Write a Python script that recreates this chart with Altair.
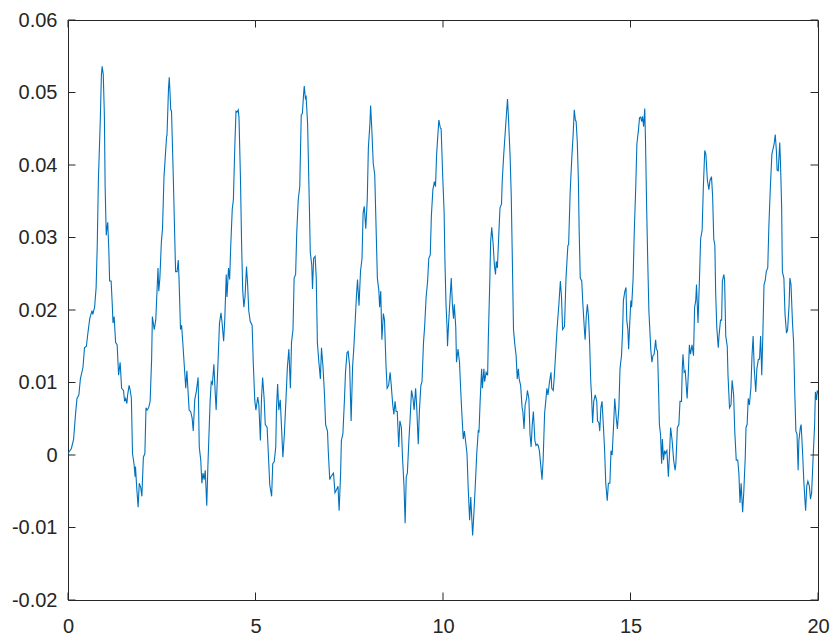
import altair as alt
import pandas as pd

# ---- signal samples, split into segments ----
t1 = [0, 0.09, 0.15, 0.20, 0.24, 0.29, 0.33, 0.40, 0.44, 0.49, 0.53, 0.58, 0.64, 0.66, 0.71, 0.75, 0.78, 0.81,
      0.86, 0.89, 0.91, 0.94, 0.97, 0.99, 1.02, 1.04, 1.06, 1.09, 1.11, 1.15, 1.18, 1.20, 1.23, 1.27, 1.31, 1.35,
      1.39, 1.43, 1.48, 1.51, 1.54, 1.57, 1.59, 1.63, 1.66, 1.69, 1.72, 1.76, 1.79, 1.80, 1.83, 1.87, 1.90, 1.94,
      1.97, 2.01, 2.05, 2.08, 2.11, 2.15, 2.19, 2.23, 2.25, 2.30, 2.34, 2.37, 2.40, 2.42, 2.45, 2.49, 2.52, 2.56,
      2.63, 2.64, 2.68, 2.70, 2.72, 2.74, 2.76, 2.81, 2.86, 2.87, 2.91, 2.94, 2.96, 3.00, 3.03, 3.07]
v1 = [0.0002, 0.0009, 0.0022, 0.0056, 0.0078, 0.0083, 0.0105, 0.0121, 0.0148, 0.0150, 0.0168, 0.0188, 0.0199,
      0.0194, 0.0204, 0.0231, 0.0289, 0.0379, 0.0460, 0.0523, 0.0536, 0.0525, 0.0469, 0.0370, 0.0303, 0.0314,
      0.0321, 0.0280, 0.0240, 0.0240, 0.0208, 0.0182, 0.0191, 0.0155, 0.0152, 0.0110, 0.0128, 0.0092, 0.0089,
      0.0074, 0.0078, 0.0071, 0.0083, 0.0096, 0.0089, 0.0078, 0.0002, -0.0012, -0.0030, -0.0016, -0.0043,
      -0.0072, -0.0039, -0.0045, -0.0057, -0.0003, 0.0002, 0.0065, 0.0062, 0.0065, 0.0074, 0.0132, 0.0191,
      0.0173, 0.0186, 0.0222, 0.0258, 0.0226, 0.0244, 0.0294, 0.0312, 0.0384, 0.0440, 0.0441, 0.0505, 0.0521,
      0.0500, 0.0476, 0.0475, 0.0379, 0.0271, 0.0253, 0.0253, 0.0269, 0.0244, 0.0173, 0.0179, 0.0148]

t2 = [3.14, 3.17, 3.23, 3.27, 3.31, 3.34, 3.38, 3.42, 3.47, 3.50, 3.54, 3.57, 3.60, 3.63, 3.66, 3.70, 3.73, 3.79,
      3.82, 3.85, 3.89, 3.92, 3.95, 4.00, 4.04, 4.08, 4.11, 4.15, 4.18, 4.22, 4.24, 4.28, 4.31, 4.34, 4.38, 4.41,
      4.45, 4.48, 4.51, 4.54, 4.56, 4.60, 4.63, 4.66, 4.69, 4.72, 4.76, 4.79, 4.82, 4.86, 4.91, 4.94, 4.98, 5.01,
      5.06, 5.09, 5.13, 5.16, 5.19, 5.23, 5.26, 5.31, 5.35, 5.38, 5.43, 5.46, 5.50, 5.54, 5.56, 5.59, 5.62, 5.66,
      5.70, 5.73, 5.77, 5.81, 5.85, 5.89, 5.93, 5.96, 6.00, 6.03, 6.07, 6.10, 6.14, 6.18, 6.22, 6.25, 6.28, 6.30,
      6.33, 6.35, 6.39]
v2 = [0.0092, 0.0116, 0.0062, 0.0060, 0.0051, 0.0033, 0.0076, 0.0087, 0.0107, 0.0011, -0.0007, -0.0039, -0.0025,
      -0.0034, -0.0021, -0.0070, -0.0016, 0.0074, 0.0101, 0.0098, 0.0125, 0.0092, 0.0062, 0.0128, 0.0182, 0.0196,
      0.0182, 0.0157, 0.0186, 0.0249, 0.0218, 0.0258, 0.0242, 0.0289, 0.0339, 0.0352, 0.0429, 0.0474, 0.0473,
      0.0476, 0.0465, 0.0379, 0.0289, 0.0226, 0.0204, 0.0218, 0.0260, 0.0235, 0.0199, 0.0184, 0.0179, 0.0128,
      0.0076, 0.0062, 0.0080, 0.0069, 0.0020, 0.0078, 0.0107, 0.0078, 0.0042, 0.0038, -0.0007, -0.0041, -0.0057,
      -0.0012, -0.0009, 0.0011, 0.0065, 0.0098, 0.0062, 0.0076, 0.0031, -0.0003, 0.0029, 0.0074, 0.0121, 0.0146,
      0.0092, 0.0155, 0.0173, 0.0244, 0.0249, 0.0307, 0.0352, 0.0370, 0.0469, 0.0471, 0.0496, 0.0509, 0.0492,
      0.0494, 0.0456]

t3 = [6.44, 6.46, 6.50, 6.52, 6.55, 6.59, 6.62, 6.65, 6.69, 6.73, 6.76, 6.80, 6.84, 6.87, 6.92, 6.94, 6.98, 7.01,
      7.05, 7.08, 7.12, 7.16, 7.20, 7.23, 7.27, 7.29, 7.33, 7.37, 7.40, 7.44, 7.47, 7.51, 7.55, 7.59, 7.62, 7.66,
      7.69, 7.72, 7.76, 7.80, 7.84, 7.87, 7.90, 7.94, 7.98, 8.01, 8.05, 8.07, 8.10, 8.14, 8.18, 8.21, 8.25, 8.29,
      8.31, 8.34, 8.37, 8.41, 8.44, 8.48, 8.51, 8.55, 8.59, 8.62, 8.66, 8.69, 8.72, 8.75, 8.78, 8.82, 8.85, 8.89,
      8.92, 8.96, 8.99, 9.02, 9.05, 9.09, 9.12, 9.16, 9.20, 9.23, 9.27, 9.30, 9.34, 9.37, 9.41, 9.44, 9.48, 9.51,
      9.55, 9.59, 9.62, 9.66, 9.69]
v3 = [0.0334, 0.0280, 0.0262, 0.0229, 0.0271, 0.0274, 0.0244, 0.0155, 0.0128, 0.0105, 0.0148, 0.0121, 0.0083,
      0.0042, 0.0033, 0.0006, -0.0034, -0.0030, -0.0027, -0.0025, -0.0052, -0.0048, -0.0043, -0.0077, -0.0025,
      0.0020, 0.0029, 0.0074, 0.0114, 0.0141, 0.0143, 0.0123, 0.0047, 0.0123, 0.0146, 0.0186, 0.0218, 0.0242,
      0.0206, 0.0253, 0.0271, 0.0334, 0.0343, 0.0312, 0.0352, 0.0424, 0.0456, 0.0482, 0.0451, 0.0402, 0.0386,
      0.0325, 0.0244, 0.0226, 0.0204, 0.0226, 0.0159, 0.0195, 0.0186, 0.0123, 0.0092, 0.0096, 0.0114, 0.0096,
      0.0069, 0.0056, 0.0074, 0.0060, 0.0060, 0.0011, 0.0047, 0.0038, -0.0003, -0.0043, -0.0094, -0.0030, -0.0025,
      0.0020, 0.0047, 0.0089, 0.0078, 0.0062, 0.0092, 0.0065, 0.0015, 0.0060, 0.0096, 0.0101, 0.0155, 0.0177,
      0.0218, 0.0240, 0.0271, 0.0276, 0.0330]

t4 = [9.73, 9.77, 9.80, 9.83, 9.87, 9.89, 9.93, 9.95, 9.99, 10.03, 10.05, 10.08, 10.11, 10.12, 10.15, 10.19, 10.22,
      10.25, 10.28, 10.30, 10.34, 10.36, 10.40, 10.44, 10.47, 10.50, 10.54, 10.57, 10.60, 10.64, 10.67, 10.71,
      10.74, 10.79, 10.82, 10.86, 10.90, 10.94, 10.96, 10.99, 11.03, 11.05, 11.09, 11.11, 11.15, 11.19, 11.21,
      11.25, 11.27, 11.30, 11.34, 11.37, 11.40, 11.42, 11.45, 11.49, 11.52, 11.56, 11.58, 11.62, 11.65, 11.69,
      11.72, 11.75, 11.79, 11.82, 11.85, 11.88, 11.91, 11.95, 11.98, 12.01, 12.03, 12.07, 12.11, 12.13, 12.16,
      12.19, 12.23, 12.25, 12.29, 12.32, 12.35, 12.38, 12.41, 12.45, 12.48, 12.51, 12.54, 12.57, 12.61, 12.64,
      12.67, 12.71, 12.74, 12.77, 12.80, 12.84, 12.88, 12.90, 12.94, 12.97, 13.01]
v4 = [0.0366, 0.0377, 0.0370, 0.0415, 0.0447, 0.0462, 0.0451, 0.0450, 0.0388, 0.0334, 0.0271, 0.0208, 0.0173,
      0.0150, 0.0182, 0.0218, 0.0244, 0.0208, 0.0188, 0.0208, 0.0177, 0.0128, 0.0146, 0.0128, 0.0092, 0.0060,
      0.0022, 0.0033, 0.0020, 0.0002, -0.0043, -0.0090, -0.0058, -0.0111, -0.0084, -0.0043, 0.0002, 0.0033,
      0.0032, 0.0074, 0.0119, 0.0092, 0.0119, 0.0101, 0.0114, 0.0110, 0.0164, 0.0244, 0.0294, 0.0314, 0.0289,
      0.0262, 0.0249, 0.0267, 0.0258, 0.0307, 0.0341, 0.0346, 0.0379, 0.0415, 0.0438, 0.0469, 0.0491, 0.0460,
      0.0411, 0.0357, 0.0267, 0.0173, 0.0155, 0.0137, 0.0105, 0.0119, 0.0105, 0.0096, 0.0065, 0.0060, 0.0036,
      0.0069, 0.0078, 0.0089, 0.0078, 0.0029, 0.0011, 0.0042, 0.0060, 0.0020, 0.0013, 0.0015, 0.0013, 0.0006,
      -0.0016, -0.0034, -0.0007, 0.0058, 0.0074, 0.0092, 0.0083, 0.0101, 0.0114, 0.0092, 0.0089, 0.0110, 0.0146]

t5 = [13.04, 13.09, 13.13, 13.16, 13.19, 13.24, 13.28, 13.33, 13.35, 13.39, 13.41, 13.44, 13.47, 13.50, 13.53,
      13.55, 13.58, 13.61, 13.63, 13.66, 13.70, 13.73, 13.77, 13.79, 13.82, 13.85, 13.88, 13.91, 13.94, 13.96,
      13.99, 14.02, 14.06, 14.10, 14.12, 14.16, 14.18, 14.21, 14.24, 14.27, 14.31, 14.34, 14.38, 14.41, 14.45,
      14.48, 14.51, 14.55, 14.58, 14.62, 14.65, 14.69, 14.72, 14.76, 14.79, 14.81, 14.85, 14.88, 14.90, 14.93,
      14.95, 14.98, 15.01, 15.03, 15.07, 15.10, 15.14, 15.17, 15.21, 15.24, 15.27, 15.30, 15.32, 15.35, 15.38,
      15.40, 15.43, 15.46, 15.49, 15.52, 15.54, 15.57, 15.60, 15.63, 15.67, 15.69, 15.72, 15.75, 15.77, 15.80,
      15.83, 15.85, 15.88, 15.91, 15.93, 15.97, 16.01, 16.04, 16.07, 16.11, 16.15, 16.19, 16.21, 16.25, 16.29,
      16.32]
v5 = [0.0173, 0.0208, 0.0240, 0.0218, 0.0173, 0.0177, 0.0244, 0.0289, 0.0290, 0.0361, 0.0384, 0.0415, 0.0442,
      0.0476, 0.0462, 0.0460, 0.0433, 0.0379, 0.0312, 0.0244, 0.0240, 0.0208, 0.0173, 0.0159, 0.0191, 0.0208,
      0.0191, 0.0155, 0.0101, 0.0083, 0.0044, 0.0074, 0.0083, 0.0074, 0.0047, 0.0044, 0.0033, 0.0065, 0.0074,
      0.0047, 0.0006, -0.0039, -0.0063, -0.0039, -0.0039, 0.0006, 0.0000, 0.0042, 0.0078, 0.0051, 0.0036, 0.0065,
      0.0119, 0.0137, 0.0173, 0.0213, 0.0226, 0.0231, 0.0186, 0.0173, 0.0146, 0.0182, 0.0213, 0.0204, 0.0244,
      0.0307, 0.0370, 0.0429, 0.0447, 0.0465, 0.0466, 0.0460, 0.0467, 0.0453, 0.0478, 0.0433, 0.0343, 0.0267,
      0.0199, 0.0168, 0.0146, 0.0128, 0.0137, 0.0139, 0.0159, 0.0146, 0.0144, 0.0087, 0.0042, 0.0029, -0.0012,
      0.0022, -0.0007, 0.0006, 0.0002, 0.0006, -0.0030, 0.0002, 0.0038, 0.0020, -0.0007, -0.0021, -0.0012, 0.0038,
      0.0042, 0.0074]

t6 = [16.36, 16.38, 16.40, 16.43, 16.46, 16.51, 16.54, 16.57, 16.60, 16.64, 16.68, 16.71, 16.74, 16.76, 16.80,
      16.84, 16.87, 16.91, 16.94, 16.98, 17.01, 17.05, 17.09, 17.12, 17.16, 17.19, 17.22, 17.25, 17.27, 17.30,
      17.34, 17.36, 17.40, 17.43, 17.45, 17.49, 17.51, 17.54, 17.58, 17.60, 17.64, 17.68, 17.71, 17.75, 17.78,
      17.82, 17.86, 17.89, 17.92, 17.95, 17.99, 18.02, 18.06, 18.08, 18.11, 18.14, 18.17, 18.21, 18.24, 18.27,
      18.30, 18.34, 18.37, 18.41, 18.44, 18.47, 18.50, 18.53, 18.56, 18.59, 18.62, 18.66, 18.69, 18.73, 18.77,
      18.80, 18.83, 18.86, 18.89, 18.91, 18.94, 18.98, 19.00, 19.03, 19.05, 19.09, 19.12, 19.16, 19.19, 19.23,
      19.25, 19.28, 19.32, 19.35, 19.38, 19.41, 19.44, 19.47, 19.49, 19.53, 19.55, 19.59, 19.62, 19.65, 19.67,
      19.70, 19.73, 19.77, 19.80, 19.83, 19.87, 19.91, 19.93, 19.96, 19.98, 20.00]
v6 = [0.0074, 0.0119, 0.0139, 0.0114, 0.0116, 0.0078, 0.0110, 0.0152, 0.0139, 0.0152, 0.0137, 0.0204, 0.0213,
      0.0235, 0.0182, 0.0244, 0.0298, 0.0310, 0.0366, 0.0420, 0.0415, 0.0379, 0.0366, 0.0379, 0.0384, 0.0357,
      0.0298, 0.0289, 0.0226, 0.0177, 0.0148, 0.0164, 0.0186, 0.0186, 0.0240, 0.0249, 0.0240, 0.0164, 0.0150,
      0.0110, 0.0065, 0.0069, 0.0103, 0.0083, 0.0033, -0.0007, -0.0007, -0.0025, -0.0066, -0.0039, -0.0079,
      -0.0052, -0.0003, 0.0038, 0.0042, 0.0078, 0.0069, 0.0092, 0.0137, 0.0164, 0.0119, 0.0087, 0.0119, 0.0132,
      0.0132, 0.0164, 0.0110, 0.0168, 0.0235, 0.0240, 0.0253, 0.0258, 0.0316, 0.0370, 0.0415, 0.0422, 0.0429,
      0.0442, 0.0420, 0.0393, 0.0392, 0.0431, 0.0402, 0.0343, 0.0253, 0.0244, 0.0195, 0.0168, 0.0173, 0.0208,
      0.0244, 0.0235, 0.0182, 0.0155, 0.0087, 0.0033, 0.0029, -0.0021, 0.0020, 0.0038, 0.0042, 0.0002, -0.0034,
      -0.0061, -0.0077, -0.0043, -0.0036, -0.0043, -0.0061, -0.0052, -0.0003, 0.0042, 0.0087, 0.0076, 0.0089,
      0.0085]

x_ticks = [0, 5, 10, 15, 20]
y_ticks = [-0.02, -0.01, 0, 0.01, 0.02, 0.03, 0.04, 0.05, 0.06]

t_all = t1 + t2 + t3 + t4 + t5 + t6
v_all = v1 + v2 + v3 + v4 + v5 + v6
df = pd.DataFrame({"t": t_all, "v": v_all})

W, H = 750, 580
AX = "#262626"
FONT = "Liberation Sans"

xscale = alt.Scale(domain=[0, 20], nice=False, zero=False)
yscale = alt.Scale(domain=[-0.02, 0.06], nice=False, zero=False)

xaxis = alt.Axis(values=x_ticks, format="d", title=None, ticks=False, domain=False, grid=False,
                 labelFontSize=20, labelFont=FONT, labelColor=AX, labelPadding=16, labelFlush=False)
yaxis = alt.Axis(values=y_ticks, title=None, ticks=False, domain=False, grid=False,
                 labelFontSize=20, labelFont=FONT, labelColor=AX, labelPadding=11,
                 labelExpr="datum.value == 0 ? '0' : replace(format(datum.value, '.2f'), '\u2212', '-')")

line = alt.Chart(df).mark_line(color="#0072BD", strokeWidth=1.1, clip=True).encode(
    x=alt.X("t:Q", scale=xscale, axis=xaxis),
    y=alt.Y("v:Q", scale=yscale, axis=yaxis),
)

ydf = pd.DataFrame({"v": y_ticks})
xdf = pd.DataFrame({"t": x_ticks})
TL = 7.5

ytick_left = alt.Chart(ydf).mark_rule(color=AX, strokeWidth=1).encode(
    y=alt.Y("v:Q", scale=yscale, axis=yaxis), x=alt.value(0), x2=alt.value(TL))
ytick_right = alt.Chart(ydf).mark_rule(color=AX, strokeWidth=1).encode(
    y=alt.Y("v:Q", scale=yscale, axis=yaxis), x=alt.value(W - TL), x2=alt.value(W))
xtick_bottom = alt.Chart(xdf).mark_rule(color=AX, strokeWidth=1).encode(
    x=alt.X("t:Q", scale=xscale, axis=xaxis), y=alt.value(H), y2=alt.value(H - TL))
xtick_top = alt.Chart(xdf).mark_rule(color=AX, strokeWidth=1).encode(
    x=alt.X("t:Q", scale=xscale, axis=xaxis), y=alt.value(0), y2=alt.value(TL))

chart = alt.layer(line, ytick_left, ytick_right, xtick_bottom, xtick_top).properties(
    width=W, height=H,
    autosize=alt.AutoSizeParams(type="none"),
    padding={"left": 60, "top": 12, "right": 12, "bottom": 36},
    background="white",
).configure_view(stroke=AX, strokeWidth=1)

chart.save("out.html", embed_options={"renderer": "svg", "actions": False})
